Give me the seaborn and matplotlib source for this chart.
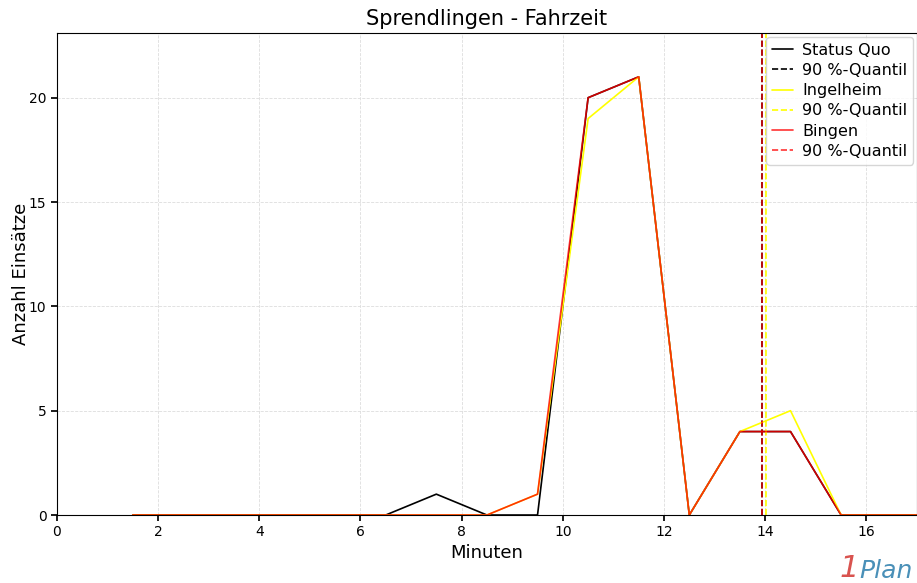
import pandas as pd
import matplotlib.pyplot as plt
import seaborn as sns

minutes = [1.5, 2.5, 3.5, 4.5, 5.5, 6.5, 7.5, 8.5, 9.5, 10.5, 11.5, 12.5, 13.5, 14.5, 15.5, 16.5, 17.5]
status_quo = [0, 0, 0, 0, 0, 0, 1, 0, 0, 20, 21, 0, 4, 4, 0, 0, 0]
ingelheim = [0, 0, 0, 0, 0, 0, 0, 0, 1, 19, 21, 0, 4, 5, 0, 0, 0]
bingen = [0, 0, 0, 0, 0, 0, 0, 0, 1, 20, 21, 0, 4, 4, 0, 0, 0]

q90_status_quo = 13.93
q90_ingelheim = 14.02
q90_bingen = 13.93


def plot_data():
    sns.set_theme(style="whitegrid")
    plt.rcParams['font.family'] = ['DejaVu Sans']
    plt.rcParams['text.color'] = 'black'
    plt.rcParams['axes.labelcolor'] = 'black'
    plt.rcParams['xtick.color'] = 'black'
    plt.rcParams['ytick.color'] = 'black'

    fig = plt.figure(figsize=(9.17, 5.83), dpi=100)
    ax = fig.add_axes([0.062, 0.1166, 0.938, 0.8268])

    df = pd.DataFrame({'x': minutes, 'sq': status_quo, 'ing': ingelheim, 'bin': bingen})

    sns.lineplot(data=df, x='x', y='sq', ax=ax, color='black', linewidth=1.2, label='Status Quo')
    ax.axvline(q90_status_quo, color='black', linestyle='--', linewidth=1.2, label='90 %-Quantil')
    sns.lineplot(data=df, x='x', y='ing', ax=ax, color='yellow', linewidth=1.2, label='Ingelheim')
    ax.axvline(q90_ingelheim, color='yellow', linestyle='--', linewidth=1.2, label='90 %-Quantil')
    sns.lineplot(data=df, x='x', y='bin', ax=ax, color='red', alpha=0.8, linewidth=1.2, label='Bingen')
    ax.axvline(q90_bingen, color='red', alpha=0.8, linestyle='--', linewidth=1.2, label='90 %-Quantil')

    ax.set_xlim(0, 17)
    ax.set_ylim(0, 23.1)
    ax.set_xticks(range(0, 17, 2))
    ax.set_yticks([0, 5, 10, 15, 20])
    ax.tick_params(labelsize=10, length=4, color='black', bottom=True, left=True)
    for s in ax.spines.values():
        s.set_color('black')
        s.set_linewidth(0.8)
    ax.grid(True, color='#dddddd', linestyle='--', linewidth=0.6)

    ax.set_title('Sprendlingen - Fahrzeit', fontsize=15)
    ax.set_xlabel('Minuten', fontsize=13, labelpad=3)
    ax.set_ylabel('Anzahl Einsätze', fontsize=13, labelpad=-1)

    ax.legend(loc='upper right', fontsize=11.5, frameon=True, framealpha=0.8,
              handlelength=1.3, handletextpad=0.6, borderpad=0.35,
              labelspacing=0.33, borderaxespad=0.25)

    # logo
    fig.text(0.937, 0.0, '1', color='#d9534f', fontsize=22, style='italic', ha='right', va='bottom')
    fig.text(0.937, 0.0, 'Plan', color='#4a90b8', fontsize=18, style='italic', ha='left', va='bottom')

    plt.savefig('out.png', dpi=100)


if __name__ == "__main__":
    plot_data()
